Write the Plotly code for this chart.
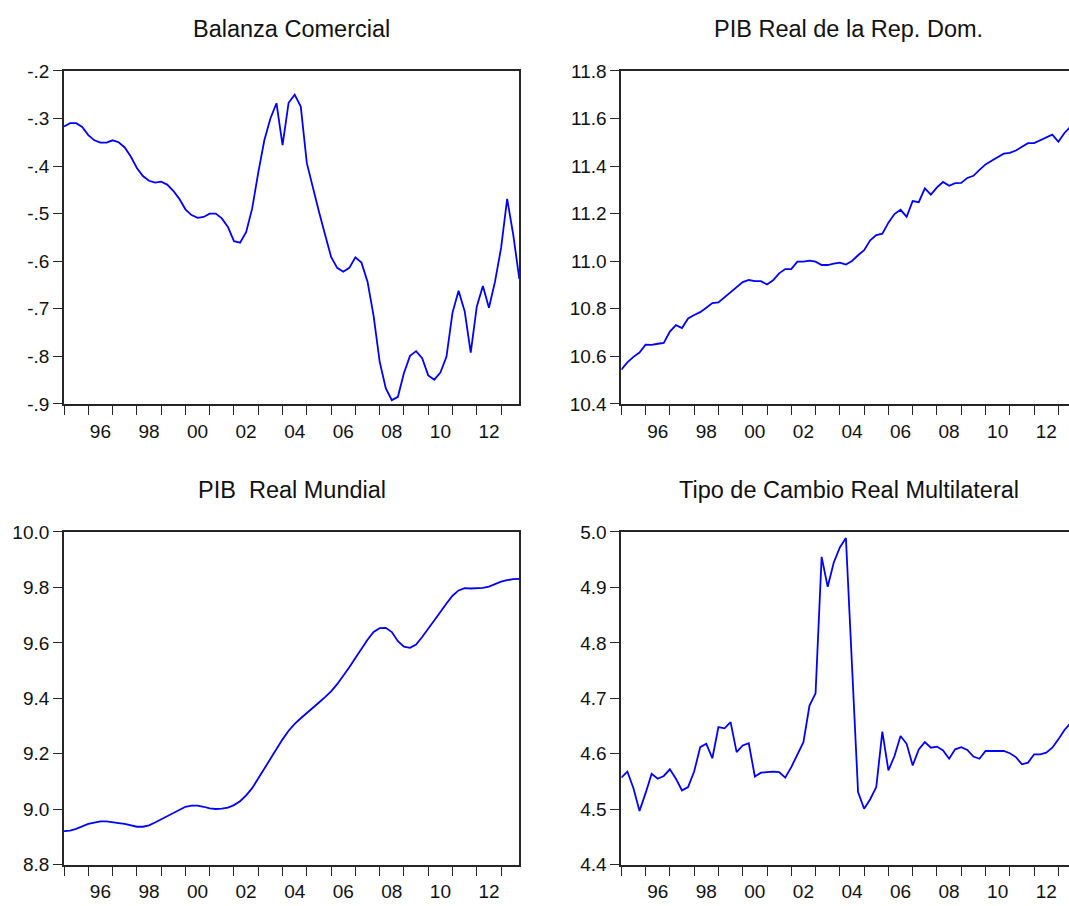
import pandas as pd
import plotly.graph_objects as go

# ---------------- data (quarterly, 1995Q1 - 2013Q4) ----------------
quarters = pd.period_range("1995Q1", "2013Q4", freq="Q")

balanza_comercial = [
    -0.317, -0.310, -0.310, -0.318, -0.335, -0.346, -0.351, -0.351,
    -0.346, -0.350, -0.361, -0.380, -0.404, -0.421, -0.431, -0.435,
    -0.433, -0.439, -0.452, -0.469, -0.491, -0.503, -0.509, -0.507,
    -0.500, -0.500, -0.510, -0.528, -0.558, -0.561, -0.539, -0.489,
    -0.414, -0.346, -0.300, -0.268, -0.356, -0.267, -0.250, -0.275,
    -0.394, -0.448, -0.496, -0.544, -0.591, -0.614, -0.622, -0.614,
    -0.592, -0.603, -0.643, -0.715, -0.811, -0.867, -0.892, -0.885,
    -0.835, -0.799, -0.789, -0.804, -0.840, -0.849, -0.834, -0.801,
    -0.708, -0.662, -0.705, -0.792, -0.695, -0.652, -0.698, -0.643,
    -0.572, -0.469, -0.544, -0.637,
]

pib_real_rd = [
    10.544, 10.575, 10.598, 10.616, 10.649, 10.648, 10.653, 10.657,
    10.704, 10.731, 10.719, 10.759, 10.774, 10.786, 10.804, 10.824,
    10.827, 10.849, 10.872, 10.893, 10.912, 10.921, 10.916, 10.916,
    10.902, 10.920, 10.949, 10.967, 10.967, 10.998, 10.998, 11.002,
    10.998, 10.984, 10.984, 10.990, 10.994, 10.986, 11.001, 11.025,
    11.046, 11.088, 11.110, 11.116, 11.162, 11.198, 11.216, 11.187,
    11.253, 11.248, 11.306, 11.280, 11.310, 11.333, 11.317, 11.328,
    11.329, 11.350, 11.359, 11.384, 11.407, 11.422, 11.436, 11.452,
    11.455, 11.465, 11.481, 11.496, 11.496, 11.507, 11.518, 11.532,
    11.502, 11.539, 11.565, 11.585,
]

pib_real_mundial = [
    8.921, 8.923, 8.929, 8.937, 8.947, 8.952, 8.956, 8.956,
    8.952, 8.950, 8.947, 8.942, 8.937, 8.937, 8.942, 8.952,
    8.964, 8.976, 8.988, 9.000, 9.009, 9.013, 9.013, 9.009,
    9.003, 9.001, 9.002, 9.006, 9.015, 9.029, 9.050, 9.076,
    9.111, 9.146, 9.181, 9.219, 9.252, 9.283, 9.308, 9.328,
    9.348, 9.367, 9.385, 9.404, 9.425, 9.451, 9.480, 9.512,
    9.545, 9.578, 9.611, 9.639, 9.653, 9.654, 9.639, 9.606,
    9.586, 9.582, 9.594, 9.621, 9.650, 9.680, 9.711, 9.742,
    9.770, 9.789, 9.797, 9.796, 9.796, 9.798, 9.803, 9.811,
    9.821, 9.826, 9.830, 9.831,
]

tipo_cambio_real = [
    4.557, 4.568, 4.538, 4.497, 4.529, 4.564, 4.555, 4.560,
    4.572, 4.555, 4.534, 4.540, 4.568, 4.612, 4.618, 4.592,
    4.648, 4.646, 4.657, 4.603, 4.615, 4.619, 4.559, 4.566,
    4.567, 4.568, 4.567, 4.557, 4.576, 4.599, 4.621, 4.687,
    4.709, 4.955, 4.901, 4.945, 4.972, 4.989, 4.760, 4.531,
    4.501, 4.518, 4.540, 4.640, 4.570, 4.596, 4.632, 4.618,
    4.579, 4.608, 4.621, 4.611, 4.613, 4.606, 4.591, 4.608,
    4.612, 4.607, 4.595, 4.591, 4.605, 4.605, 4.604, 4.605,
    4.601, 4.594, 4.581, 4.584, 4.599, 4.599, 4.602, 4.611,
    4.626, 4.643, 4.655, 4.662,
]

titles = ["Balanza Comercial", "PIB Real de la Rep. Dom.",
          "PIB\u00a0 Real Mundial", "Tipo de Cambio Real Multilateral"]

year_ticks = list(range(1995, 2014))
year_label_years = list(range(1996, 2013, 2))
year_labels = ["96", "98", "00", "02", "04", "06", "08", "10", "12"]

y_tick_vals = {
    "bc": [-0.2, -0.3, -0.4, -0.5, -0.6, -0.7, -0.8, -0.9],
    "rd": [11.8, 11.6, 11.4, 11.2, 11.0, 10.8, 10.6, 10.4],
    "mu": [10.0, 9.8, 9.6, 9.4, 9.2, 9.0, 8.8],
    "tc": [5.0, 4.9, 4.8, 4.7, 4.6, 4.5, 4.4],
}
y_tick_text = {
    "bc": ["-.2", "-.3", "-.4", "-.5", "-.6", "-.7", "-.8", "-.9"],
    "rd": ["11.8", "11.6", "11.4", "11.2", "11.0", "10.8", "10.6", "10.4"],
    "mu": ["10.0", "9.8", "9.6", "9.4", "9.2", "9.0", "8.8"],
    "tc": ["5.0", "4.9", "4.8", "4.7", "4.6", "4.5", "4.4"],
}

# ---------------- figure ----------------
W, H = 1069, 906
x = [p.year + (p.quarter - 1) / 4 for p in quarters]

FONT = "Liberation Sans, Arial, Helvetica, sans-serif"
AXC = "#262626"
LINE = "#0000FF"

# pixel geometry of plot areas
left_px = (64, 519.3)
right_px = (621.3, 1069)
top_px = (62.3, 403.3)
bot_px = (534.3, 875)
px_per_year = (left_px[1] - left_px[0]) / 18.75


def xd(a, b):
    return [a / W, min(b / W, 1.0)]


def yd(t, b):
    return [1 - b / H, 1 - t / H]


panels = [
    ("bc", balanza_comercial, xd(*left_px), yd(*top_px), False),
    ("rd", pib_real_rd, xd(*right_px), yd(*top_px), True),
    ("mu", pib_real_mundial, xd(*left_px), yd(*bot_px), False),
    ("tc", tipo_cambio_real, xd(*right_px), yd(*bot_px), True),
]

fig = go.Figure()
annotations = []
for i, (key, vals, xdom, ydom, clipped) in enumerate(panels):
    n = "" if i == 0 else str(i + 1)
    xa, ya = "x" + n, "y" + n
    fig.add_trace(go.Scatter(x=x, y=vals, mode="lines", xaxis=xa, yaxis=ya,
                             line=dict(color=LINE, width=1.8), showlegend=False,
                             hoverinfo="skip"))
    if clipped:
        xr = [1995, 1995 + (right_px[1] - right_px[0]) / px_per_year]
    else:
        xr = [1995, 2013.75]
    yv = y_tick_vals[key]
    fig.layout["xaxis" + n] = dict(
        domain=xdom, range=xr, anchor=ya, showgrid=False, zeroline=False,
        showline=True, linecolor=AXC, linewidth=1.7, mirror=True,
        tickmode="array", tickvals=[yy + 0.5 for yy in year_label_years],
        ticktext=year_labels, ticks="outside", ticklen=9,
        tickcolor="rgba(0,0,0,0)",
        tickfont=dict(family=FONT, size=19, color="#111"),
        minor=dict(tickmode="array", tickvals=year_ticks, ticks="outside",
                   ticklen=9, tickwidth=1.4, tickcolor=AXC, showgrid=False),
        fixedrange=True,
    )
    fig.layout["yaxis" + n] = dict(
        domain=ydom, range=[min(yv), max(yv)], anchor=xa, showgrid=False,
        zeroline=False, showline=True, linecolor=AXC, linewidth=1.7,
        mirror=(not clipped),
        tickmode="array", tickvals=yv, ticktext=y_tick_text[key],
        ticks="outside", ticklen=9, tickwidth=1.4, tickcolor=AXC,
        tickfont=dict(family=FONT, size=19, color="#111"),
        fixedrange=True,
    )
    cx = (left_px[0] + left_px[1]) / 2 if not clipped else right_px[0] + 18.75 * px_per_year / 2
    cy = 19.7 if ydom[1] > 0.5 else 491.7
    annotations.append(dict(text=titles[i], x=cx / W, y=1 - cy / H, xref="paper",
                            yref="paper", xanchor="center", yanchor="middle",
                            showarrow=False,
                            font=dict(family=FONT, size=23.5, color="#111")))

fig.update_layout(width=W, height=H, margin=dict(l=0, r=0, t=0, b=0),
                  paper_bgcolor="white", plot_bgcolor="white",
                  annotations=annotations, showlegend=False)

fig.write_html("out.html", config={"displayModeBar": False},
               post_script="document.body.style.margin='0';document.body.style.overflow='hidden';")
